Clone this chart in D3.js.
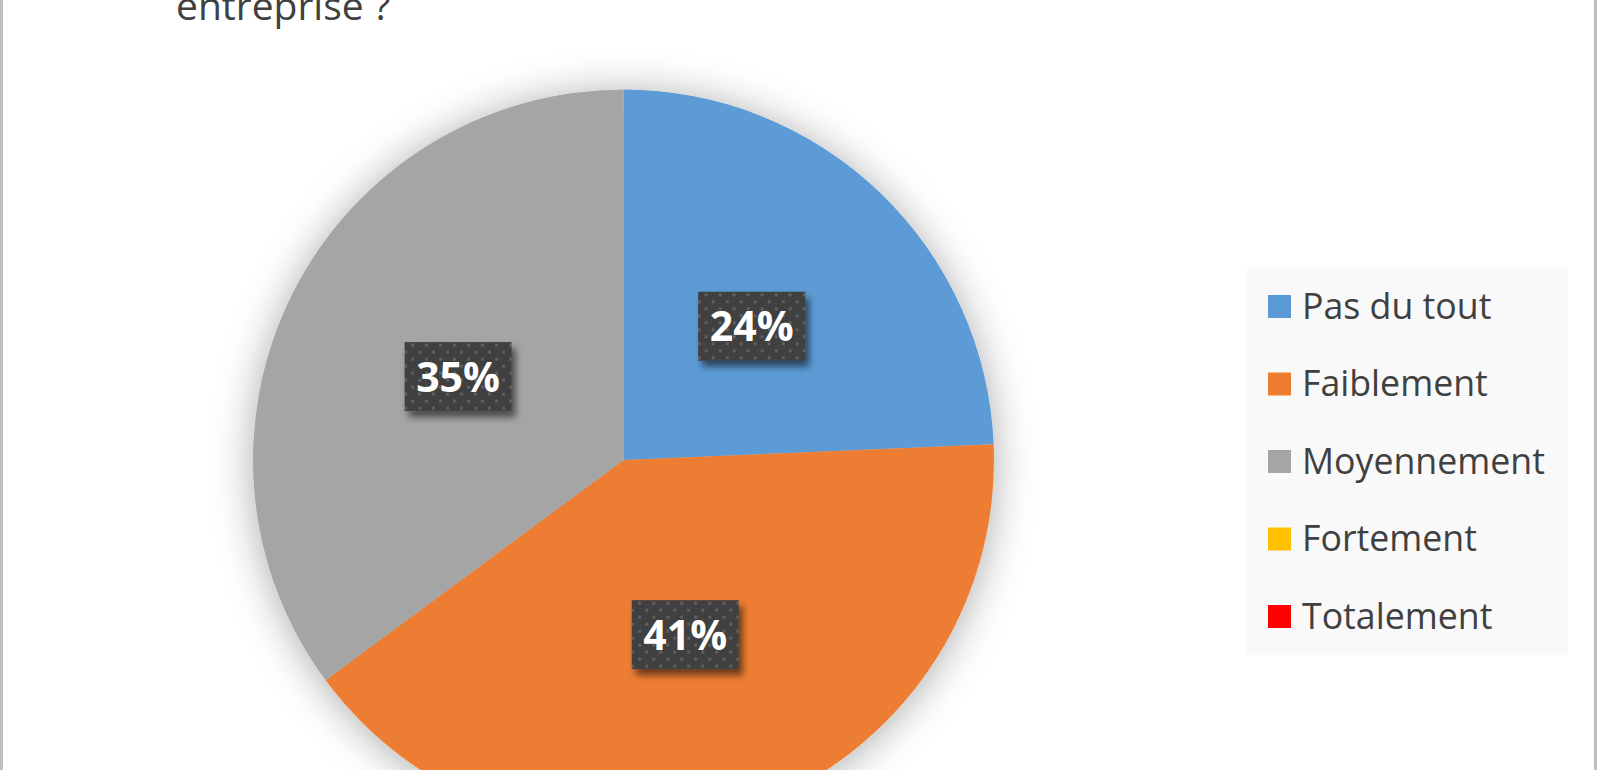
<!DOCTYPE html>
<html>
<head>
<meta charset="utf-8">
<script src="https://cdn.jsdelivr.net/npm/d3@7"></script>
<style>
  html, body { margin: 0; padding: 0; background: #fff; }
  svg { display: block; }
</style>
</head>
<body>
<svg id="chart" width="1597" height="770"></svg>
<script>
// ---- data ----
const categories = ["Pas du tout", "Faiblement", "Moyennement", "Fortement", "Totalement"];
const counts = [9, 15, 13, 0, 0];
const colors = ["#5B9BD5", "#ED7D31", "#A5A5A5", "#FFC000", "#FF0000"];
const titleLine = "entreprise ?";

// ---- layout ----
const W = 1597, H = 770;
const cx = 623.5, cy = 460, R = 370.5;

const svg = d3.select("#chart");
const defs = svg.append("defs");

// pie shadow (soft glow)
const f1 = defs.append("filter").attr("id", "pieShadow")
  .attr("x", "-30%").attr("y", "-30%").attr("width", "160%").attr("height", "160%");
f1.append("feDropShadow").attr("dx", 0).attr("dy", 3).attr("stdDeviation", 20)
  .attr("flood-color", "#000").attr("flood-opacity", 0.33);

// label box shadow
const f2 = defs.append("filter").attr("id", "boxShadow")
  .attr("x", "-30%").attr("y", "-30%").attr("width", "160%").attr("height", "160%");
f2.append("feDropShadow").attr("dx", 4).attr("dy", 6).attr("stdDeviation", 3.5)
  .attr("flood-color", "#000").attr("flood-opacity", 0.55);

// dotted pattern for label boxes
const pat = defs.append("pattern").attr("id", "dots")
  .attr("patternUnits", "userSpaceOnUse").attr("width", 14).attr("height", 14);
pat.append("rect").attr("width", 14).attr("height", 14).attr("fill", "#404040");
pat.append("rect").attr("x", 2).attr("y", 2).attr("width", 3).attr("height", 3).attr("fill", "#5f5f5f");
pat.append("rect").attr("x", 9).attr("y", 9).attr("width", 3).attr("height", 3).attr("fill", "#5f5f5f");

// background + side borders
svg.append("rect").attr("width", W).attr("height", H).attr("fill", "#fff");
svg.append("rect").attr("x", 0).attr("y", 0).attr("width", 3).attr("height", H).attr("fill", "#BFBFBF");
svg.append("rect").attr("x", W - 3).attr("y", 0).attr("width", 3).attr("height", H).attr("fill", "#BFBFBF");

// title (visible last line, cut by top edge as in the reference)
svg.append("text")
  .attr("x", 176).attr("y", 20)
  .attr("font-family", "'Open Sans', sans-serif")
  .attr("font-size", 39)
  .attr("fill", "#404040")
  .text(titleLine);

// pie
const data = categories.map((c, i) => ({ cat: c, value: counts[i], color: colors[i] }));
const pie = d3.pie().sort(null).value(d => d.value);
const arcs = pie(data);
const arc = d3.arc().innerRadius(0).outerRadius(R);
const labelArc = d3.arc().innerRadius(R / 2).outerRadius(R / 2);
const total = d3.sum(counts);
const fmt = d3.format(".0%");

const g = svg.append("g").attr("transform", `translate(${cx},${cy})`);
const shadowG = g.append("g").attr("filter", "url(#pieShadow)");
shadowG.selectAll("path.slice")
  .data(arcs.filter(a => a.data.value > 0))
  .join("path")
  .attr("class", "slice")
  .attr("d", arc)
  .attr("fill", d => d.data.color);

// labels
const lbl = g.selectAll("g.lbl")
  .data(arcs.filter(a => a.data.value > 0))
  .join("g")
  .attr("class", "lbl")
  .attr("transform", d => `translate(${labelArc.centroid(d)})`);

const bw = 107, bh = 69;
lbl.append("rect")
  .attr("x", -bw / 2).attr("y", -bh / 2)
  .attr("width", bw).attr("height", bh)
  .attr("fill", "url(#dots)")
  .attr("filter", "url(#boxShadow)");
lbl.append("text")
  .attr("text-anchor", "middle")
  .attr("y", 15)
  .attr("font-family", "'Open Sans', sans-serif")
  .attr("font-weight", "bold")
  .attr("font-size", 41)
  .attr("fill", "#fff")
  .text(d => fmt(d.data.value / total));

// legend
const lx = 1247, ly = 267, lw = 321, lh = 388;
svg.append("rect").attr("x", lx).attr("y", ly).attr("width", lw).attr("height", lh).attr("fill", "#F9F9F9");
const rowY = d3.scalePoint().domain(categories).range([306.5, 616.5]);
const leg = svg.selectAll("g.leg").data(data).join("g").attr("class", "leg")
  .attr("transform", d => `translate(0,${rowY(d.cat)})`);
leg.append("rect").attr("x", 1268).attr("y", -11.5).attr("width", 23).attr("height", 23)
  .attr("fill", d => d.color);
leg.append("text")
  .attr("x", 1302).attr("y", 12)
  .attr("font-family", "'Open Sans', sans-serif")
  .attr("font-size", 35.7)
  .attr("fill", "#404040")
  .text(d => d.cat);
</script>
</body>
</html>
